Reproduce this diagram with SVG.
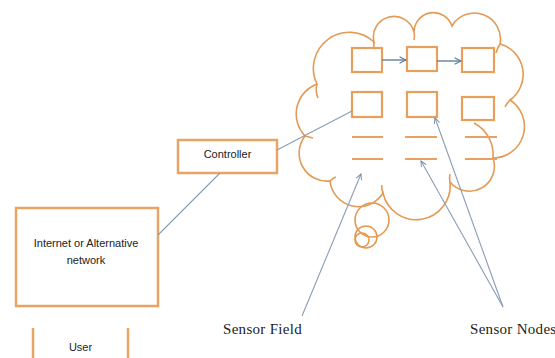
<svg xmlns="http://www.w3.org/2000/svg" width="555" height="358" viewBox="0 0 555 358">
<defs>
<style>
.box{fill:none;stroke:#E7A463;stroke-width:2.5}
.cloud{fill:none;stroke:#E49A55;stroke-width:1.6}
.sq{fill:none;stroke:#E7A05C;stroke-width:2.2}
.dash{stroke:#EBA062;stroke-width:2}
.conn{fill:none;stroke:#8A9DB5;stroke-width:1.1}
.flow{fill:none;stroke:#55759A;stroke-width:1.3}
.sans{font-family:"Liberation Sans",Arial,sans-serif;font-size:11px;fill:#222}
.serif{font-family:"Liberation Serif","Times New Roman",serif;font-size:15px;fill:#222;letter-spacing:0.3px}
</style>
<marker id="open" viewBox="0 0 10 10" refX="9" refY="5" markerWidth="7" markerHeight="7" orient="auto" markerUnits="userSpaceOnUse">
<path d="M1,1 L9,5 L1,9" fill="none" stroke="#6F87A6" stroke-width="1.3"/>
</marker>
<marker id="openDark" viewBox="0 0 10 10" refX="9" refY="5" markerWidth="8" markerHeight="8" orient="auto" markerUnits="userSpaceOnUse">
<path d="M1,1 L9,5 L1,9" fill="none" stroke="#55759A" stroke-width="1.3"/>
</marker>
</defs>
<rect width="555" height="358" fill="#fff"/>

<g id="sensor-field">
<path class="cloud" d="M305,136 A32 32 0 0 1 317,84 A36 36 0 0 1 374,42 A20.5 20.5 0 0 1 414,32 A19.5 19.5 0 0 1 452,26 A26 26 0 0 1 500,44 A31.5 31.5 0 0 1 510,100 A31.5 31.5 0 0 1 493,158 A25 25 0 0 1 450,182 A34 34 0 0 1 383,193 A28.7 28.7 0 0 1 330,181 A28 28 0 0 1 305,136 Z"/>
<path class="cloud" d="M317,84 Q315,91 318,98"/>
<path class="cloud" d="M374,42 Q373,46 375,49"/>
<path class="cloud" d="M414,32 Q415,36 414,40"/>
<path class="cloud" d="M500,44 Q497,49 496,53"/>
<path class="cloud" d="M510,100 Q507,103 505,107"/>
<path class="cloud" d="M474,123 A36 36 0 0 1 493,158"/>
<path class="cloud" d="M450,182 Q449,178 450,174"/>
<path class="cloud" d="M383,193 Q381,189 382,185"/>
<path class="cloud" d="M330,181 Q333,178 336,177"/>
<path class="cloud" d="M305,136 Q309,137 313,138"/>
<circle class="cloud" cx="372" cy="220" r="17"/>
<circle class="cloud" cx="366" cy="237" r="11"/>
<circle class="cloud" cx="362" cy="240" r="7"/>
</g>

<g id="sensor-nodes">
<rect class="sq" x="352" y="48" width="30" height="24"/>
<rect class="sq" x="407" y="47" width="30" height="24"/>
<rect class="sq" x="462" y="48" width="32" height="24"/>
<rect class="sq" x="352" y="92" width="30" height="25"/>
<rect class="sq" x="407" y="92" width="30" height="25"/>
<rect class="sq" x="462" y="97" width="32" height="23"/>
<line class="dash" x1="352" y1="137" x2="383" y2="137"/>
<line class="dash" x1="405" y1="137" x2="437" y2="137"/>
<line class="dash" x1="465" y1="137" x2="497" y2="137"/>
<line class="dash" x1="352" y1="159" x2="383" y2="159"/>
<line class="dash" x1="405" y1="159" x2="437" y2="159"/>
<line class="dash" x1="465" y1="159" x2="497" y2="159"/>
</g>

<g id="controller">
<rect class="box" x="178" y="140" width="99" height="33"/>
<text class="sans" x="227.5" y="158" text-anchor="middle">Controller</text>
</g>

<g id="internet">
<rect class="box" x="16" y="208" width="142" height="98"/>
<text class="sans" x="86" y="247" text-anchor="middle">Internet or Alternative</text>
<text class="sans" x="86" y="264" text-anchor="middle">network</text>
</g>

<g id="user">
<line class="box" x1="33" y1="328" x2="33" y2="358"/>
<line class="box" x1="128" y1="328" x2="128" y2="358"/>
<text class="sans" x="80.5" y="351" text-anchor="middle">User</text>
</g>

<g id="labels">
<text class="serif" x="223" y="334">Sensor Field</text>
<text class="serif" x="470" y="334">Sensor Nodes</text>
</g>

<g id="connectors">
<line class="conn" x1="158" y1="235" x2="220" y2="173"/>
<line class="conn" x1="277" y1="150" x2="352" y2="111"/>
<line class="flow" x1="382" y1="60" x2="406" y2="60" marker-end="url(#openDark)"/>
<line class="flow" x1="437" y1="61" x2="461" y2="61" marker-end="url(#openDark)"/>
<line class="conn" x1="302" y1="316" x2="361" y2="174" marker-end="url(#open)"/>
<line class="conn" x1="503" y1="307" x2="421" y2="161" marker-end="url(#open)"/>
<line class="conn" x1="503" y1="307" x2="435" y2="118" marker-end="url(#open)"/>
</g>
</svg>
